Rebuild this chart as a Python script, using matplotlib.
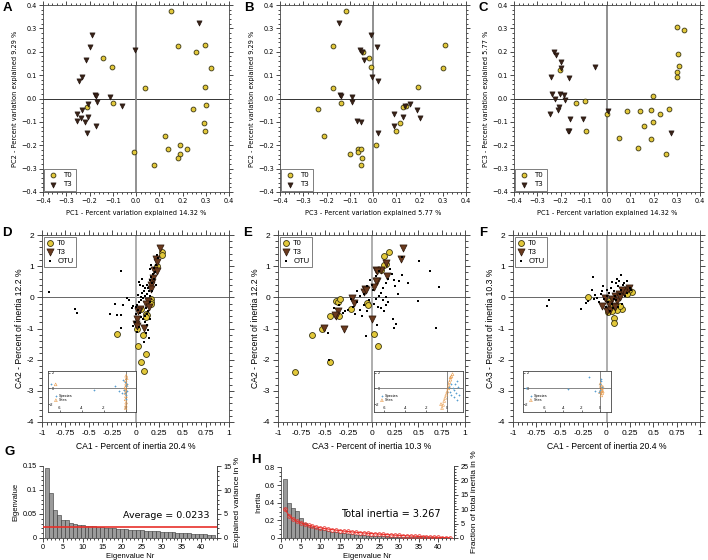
import matplotlib
matplotlib.use('Agg')
import matplotlib.pyplot as plt
from matplotlib.ticker import MultipleLocator, FuncFormatter
import numpy as np

# ---------- PCoA (A-C): (x, y) per panel ----------
a_t0 = [(0.152, 0.374), (0.181, 0.223), (0.257, 0.200), (0.295, 0.230), (0.321, 0.132), (0.298, 0.050),
        (0.301, -0.027), (0.244, -0.047), (0.291, -0.105), (0.295, -0.138), (0.125, -0.160), (0.136, -0.218),
        (0.189, -0.197), (0.189, -0.237), (0.181, -0.254), (0.221, -0.214), (0.077, -0.284), (0.040, 0.047),
        (-0.009, -0.230), (-0.142, 0.173), (-0.102, 0.135), (-0.099, -0.021), (-0.211, -0.037)]
a_t3 = [(0.270, 0.322), (-0.004, 0.206), (-0.191, 0.272), (-0.196, 0.220), (-0.215, 0.166), (-0.234, 0.091),
        (-0.247, 0.077), (-0.178, 0.017), (-0.171, 0.010), (-0.113, 0.007), (-0.166, -0.016), (-0.060, -0.031),
        (-0.205, -0.023), (-0.232, -0.050), (-0.254, -0.067), (-0.237, -0.084), (-0.206, -0.078), (-0.219, -0.099),
        (-0.255, -0.095), (-0.173, -0.118), (-0.212, -0.146)]
b_t0 = [(-0.116, 0.374), (-0.173, 0.224), (-0.043, 0.200), (-0.017, 0.173), (-0.007, 0.135), (0.309, 0.230),
        (0.299, 0.132), (-0.170, 0.047), (0.193, 0.050), (-0.139, -0.021), (-0.237, -0.047), (-0.211, -0.160),
        (0.127, -0.037), (0.141, -0.030), (0.117, -0.105), (0.097, -0.138), (0.013, -0.197), (-0.101, -0.237),
        (-0.066, -0.214), (-0.066, -0.230), (-0.051, -0.218), (-0.049, -0.254), (-0.050, -0.284)]
b_t3 = [(-0.147, 0.322), (-0.009, 0.272), (0.017, 0.220), (-0.054, 0.206), (-0.049, 0.201), (-0.037, 0.166),
        (-0.003, 0.091), (0.023, 0.077), (-0.140, 0.017), (-0.139, 0.010), (-0.089, 0.007), (-0.091, -0.016),
        (0.160, -0.023), (0.137, -0.031), (0.189, -0.050), (0.203, -0.084), (0.131, -0.078), (0.091, -0.067),
        (0.090, -0.118), (-0.069, -0.097), (-0.053, -0.099), (0.021, -0.146)]
c_t0 = [(0.303, 0.305), (0.331, 0.295), (0.306, 0.190), (0.309, 0.138), (0.299, 0.115), (0.303, 0.094),
        (0.197, 0.010), (0.266, -0.044), (0.229, -0.067), (0.190, -0.051), (0.144, -0.054), (0.087, -0.052),
        (0.197, -0.102), (0.159, -0.116), (0.189, -0.173), (0.050, -0.169), (0.134, -0.211), (0.253, -0.238),
        (-0.001, -0.067), (-0.204, 0.123), (-0.134, -0.021), (-0.094, -0.010), (-0.090, -0.140)]
c_t3 = [(-0.227, 0.201), (-0.221, 0.187), (-0.196, 0.157), (-0.197, 0.130), (-0.051, 0.133), (-0.243, 0.091),
        (-0.163, 0.089), (-0.237, 0.021), (-0.204, 0.021), (-0.186, 0.016), (-0.224, -0.003), (-0.180, -0.007),
        (-0.207, -0.035), (-0.210, -0.051), (-0.246, -0.068), (-0.159, -0.088), (-0.104, -0.088), (-0.163, -0.139),
        (-0.169, -0.140), (0.004, -0.054), (0.277, -0.146)]

# ---------- CA (D-F) ----------
d_t0 = [(0.286, 1.45), (0.279, 1.37), (0.225, 1.02), (0.161, -0.05), (0.171, -0.16), (0.161, -0.22),
        (0.064, -0.38), (0.111, -0.52), (0.121, -0.56), (0.107, -0.62), (0.021, -1.02), (0.082, -1.20),
        (-0.193, -1.18), (0.029, -1.56), (0.111, -1.81), (0.054, -2.06), (0.086, -2.37)]
d_t3 = [(0.261, 1.59), (0.214, 1.22), (0.232, 1.13), (0.196, 0.89), (0.225, 0.86), (0.179, 0.48),
        (0.171, 0.38), (0.161, 0.27), (0.136, -0.11), (0.107, -0.22), (0.046, -0.38), (0.029, -0.45),
        (0.011, -0.70), (0.0, -0.86), (0.018, -0.91), (0.089, -0.97), (0.146, -0.32), (0.189, 0.62)]
d_otu = [(-0.92, 0.18), (-0.65, -0.38), (-0.63, -0.49), (-0.15, 0.86), (-0.275, -0.54), (-0.20, -0.57),
         (-0.16, -0.57), (-0.22, -0.22), (-0.13, -0.25), (-0.09, -0.02), (-0.07, -0.09), (-0.03, -0.28),
         (-0.04, -0.33), (-0.16, -0.99), (-0.03, -0.92), (0.05, 0.38), (0.08, 0.35), (0.10, 0.30), (0.12, 0.40),
         (0.15, 0.55), (0.17, 0.65), (0.19, 0.75), (0.20, 0.95), (0.22, 1.05), (0.24, 1.25), (0.23, 1.35),
         (0.18, 0.45), (0.14, 0.20), (0.12, 0.10), (0.10, 0.05), (0.08, -0.02), (0.06, -0.08), (0.04, -0.15),
         (0.02, -0.25), (0.0, -0.30), (0.03, -0.40), (0.05, -0.50), (0.06, -0.62), (0.08, -0.70), (0.10, -0.78),
         (0.12, -0.88), (0.13, -1.05), (0.11, -1.15), (0.14, -1.30), (0.09, -1.42), (0.16, -0.15), (0.15, 0.05),
         (0.13, 0.30), (0.09, 0.20), (0.07, 0.15), (0.11, -0.35), (0.13, -0.45), (0.01, -0.55), (-0.01, -0.80),
         (0.04, -0.95), (0.02, -1.10), (0.06, 0.0), (0.03, 0.08), (0.18, 0.20), (0.20, 0.60), (0.21, 0.80),
         (0.16, 0.90), (0.17, 1.05), (0.22, 0.40), (0.04, 0.50), (0.07, 0.60), (0.10, -0.60), (0.15, -0.70),
         (0.12, -0.55)]
e_t0 = [(0.185, 1.44), (0.136, 1.34), (0.157, 1.08), (0.136, 1.04), (0.101, 0.89), (-0.378, -0.11),
        (-0.360, -0.15), (-0.332, -0.06), (-0.045, -0.19), (-0.035, -0.25), (-0.224, -0.39), (-0.343, -0.61),
        (-0.448, -0.61), (-0.528, -1.03), (-0.633, -1.22), (0.024, -1.18), (0.070, -1.56), (-0.441, -2.08),
        (-0.815, -2.38)]
e_t3 = [(0.339, 1.57), (0.318, 1.22), (0.154, 1.10), (0.049, 0.88), (0.101, 0.88), (0.056, 0.84),
        (0.171, 0.69), (0.056, 0.54), (0.049, 0.52), (0.031, 0.32), (-0.073, 0.26), (-0.084, 0.18),
        (-0.063, 0.22), (-0.210, -0.02), (-0.189, -0.19), (-0.360, -0.45), (-0.385, -0.59), (-0.395, -0.56),
        (-0.510, -0.97), (-0.294, -1.00), (0.007, -0.70)]
e_otu = [(0.51, 1.15), (0.63, 0.86), (0.72, 0.33), (0.50, -0.12), (0.69, -0.97), (0.39, 0.46), (0.33, 0.72),
         (0.29, 0.54), (0.24, 0.57), (0.23, -0.68), (0.26, -0.84), (0.24, -0.97), (0.06, -0.88), (-0.06, -1.24),
         (-0.46, -1.16), (-0.45, -2.00), (0.33, 1.31), (0.20, 0.90), (0.22, 0.75), (0.18, 0.60), (0.15, 0.45),
         (0.12, 0.30), (0.10, 0.15), (0.08, 0.05), (0.05, -0.05), (0.12, -0.10), (0.15, -0.25), (0.18, -0.15),
         (0.10, -0.35), (0.03, -0.20), (0.00, 0.40), (-0.05, 0.35), (-0.02, 0.55), (-0.08, 0.10), (-0.12, 0.05),
         (-0.15, -0.15), (-0.20, -0.30), (-0.25, -0.40), (-0.28, -0.45), (-0.30, -0.50), (-0.18, -0.55),
         (-0.10, -0.60), (-0.05, -0.45), (-0.35, -0.25), (-0.40, -0.35), (-0.22, -0.05), (-0.15, 0.20),
         (0.05, 0.70), (0.08, 0.85), (0.02, 0.25), (0.07, -0.30), (0.13, -0.45), (-0.08, -0.25), (-0.03, -0.10),
         (0.25, 0.35), (0.28, 0.10), (-0.12, -0.40), (0.16, 0.02)]
f_t0 = [(-0.194, 0.02), (0.272, 0.16), (0.244, 0.22), (0.163, -0.38), (0.085, -0.65), (0.085, -0.83),
        (0.113, -0.41), (0.053, -0.27), (0.014, -0.48), (0.060, -0.43), (0.194, 0.16), (0.219, 0.11),
        (0.025, -0.11), (0.148, -0.27)]
f_t3 = [(0.244, 0.29), (0.219, 0.22), (0.184, 0.16), (0.131, 0.11), (0.095, 0.05), (0.060, -0.05),
        (0.025, -0.22), (0.0, -0.45), (0.042, -0.41), (0.113, -0.11), (0.148, 0.0), (0.078, -0.27),
        (-0.011, -0.02), (-0.046, -0.27), (0.095, -0.32), (0.166, 0.24)]
f_otu = [(-0.62, -0.09), (-0.64, -0.29), (-0.27, -0.38), (-0.22, -0.18), (-0.20, -0.11), (-0.14, 0.65),
         (-0.15, 0.25), (-0.12, 0.09), (-0.06, 0.12), (0.16, 0.72), (0.13, 0.52), (0.22, 0.54), (0.10, 0.45),
         (0.05, 0.30), (0.08, 0.20), (0.12, 0.35), (0.18, 0.38), (0.25, 0.30), (0.00, 0.05), (-0.03, -0.05),
         (-0.08, -0.15), (-0.10, -0.02), (0.02, -0.15), (0.06, -0.20), (0.10, -0.10), (0.14, 0.10), (0.20, 0.05),
         (0.03, 0.15), (-0.05, 0.20), (0.07, -0.35), (0.12, -0.30), (0.17, -0.20), (0.22, 0.15), (0.09, 0.05),
         (0.04, -0.45), (-0.01, -0.30), (0.15, 0.25), (0.26, 0.25), (-0.13, -0.05), (0.00, 0.25), (0.11, 0.60),
         (0.19, 0.45), (-0.04, 0.35), (0.06, 0.50), (0.08, -0.05)]

# insets (species / sites biplots)
d_sp = [(-6.8, 0.5), (-2.85, -0.15), (-1.0, 0.25), (-0.65, -0.37), (-0.35, -0.55), (-0.2, 1.0), (-0.1, -0.6),
        (0.0, 0.3), (0.1, -0.3), (-0.05, 0.8), (0.05, -0.9), (-0.15, -0.2), (0.1, 0.6), (0.05, -1.3)]
d_si = [(-6.4, 0.5), (0.05, 1.6), (0.1, 1.3), (0.0, 1.0), (0.05, 0.6), (0.0, 0.2), (0.02, -0.2), (-0.02, -0.6),
        (0.03, -1.0), (0.0, -1.4), (0.05, -1.8), (0.02, -2.2), (0.0, -2.5), (-0.05, -0.1), (0.1, 0.4)]
e_sp = [(0.9, 0.9), (0.7, 0.5), (1.0, 0.2), (0.6, -0.2), (0.8, -0.6), (0.5, 0.1), (0.3, -0.4), (0.4, 0.6),
        (1.1, -0.9), (0.2, 0.2), (0.6, -1.1), (0.9, -1.5), (0.4, -0.8)]
e_si = [(0.5, 1.8), (0.4, 1.5), (0.3, 1.1), (0.2, 0.8), (0.15, 0.4), (0.1, 0.0), (0.0, -0.4), (-0.1, -0.8),
        (-0.2, -1.2), (-0.3, -1.6), (-0.4, -2.1), (-0.5, -2.5), (0.3, 1.4), (-0.6, -2.0)]
f_sp = [(-8.1, 0.1), (-3.5, -0.1), (-1.2, 1.4), (-0.5, -0.3), (0.0, 0.5), (0.1, 0.9), (0.2, 0.2), (-0.1, -0.4),
        (0.15, 1.2), (0.05, -0.2)]
f_si = [(0.1, 0.3), (0.2, 0.0), (0.1, -0.3), (0.25, -0.6), (0.15, -0.9), (0.05, 0.6), (0.3, 0.2), (0.2, -0.2),
        (0.0, -0.5), (0.3, -0.4)]

# ---------- eigenvalues (G, H) ----------
pcoa_eig = [0.145, 0.093, 0.058, 0.047, 0.038, 0.037, 0.031, 0.029, 0.028, 0.027, 0.026, 0.025, 0.024, 0.023,
            0.022, 0.021, 0.020, 0.020, 0.019, 0.018, 0.018, 0.017, 0.017, 0.016, 0.016, 0.015, 0.015, 0.014,
            0.014, 0.013, 0.013, 0.012, 0.012, 0.011, 0.011, 0.010, 0.010, 0.009, 0.009, 0.008, 0.008, 0.007, 0.006]
pcoa_avg = 0.0233
ca_eig = [0.67, 0.40, 0.34, 0.31, 0.23, 0.17, 0.15, 0.13, 0.115, 0.10, 0.09, 0.08, 0.072, 0.065, 0.058, 0.052,
          0.047, 0.042, 0.038, 0.034, 0.031, 0.028, 0.026, 0.024, 0.022, 0.020, 0.019, 0.017, 0.016, 0.015,
          0.014, 0.013, 0.012, 0.011, 0.010, 0.009, 0.008, 0.007, 0.006, 0.005, 0.004, 0.003, 0.002]
ca_stick = [0.331, 0.255, 0.217, 0.191, 0.172, 0.157, 0.144, 0.134, 0.124, 0.116, 0.108, 0.101, 0.095, 0.089,
            0.084, 0.078, 0.074, 0.069, 0.065, 0.061, 0.057, 0.054, 0.050, 0.047, 0.044, 0.041, 0.038, 0.035,
            0.032, 0.030, 0.027, 0.025, 0.022, 0.020, 0.018, 0.015, 0.013, 0.011, 0.009, 0.007, 0.005, 0.004, 0.002]
ca_total = 3.267
pcoa_total = 1.0

YEL = '#e2c83a'
BRN = '#3a2318'
BRN2 = '#6a3a1e'
RFONT = 'Liberation Sans'

fig = plt.figure(figsize=(7.08, 5.6), dpi=100)
W, H = 708.0, 560.0


def rect(x0, y0, x1, y1):
    return [x0 / W, 1 - y1 / H, (x1 - x0) / W, (y1 - y0) / H]


def xy(pts):
    return np.array(pts).T


def pc_panel(r, t0, t3, xlabel, ylabel):
    ax = fig.add_axes(r)
    ax.axhline(0, color='#333333', lw=0.7, zorder=1)
    ax.axvline(0, color='#888888', lw=1.3, zorder=1)
    x, y = xy(t0)
    ax.scatter(x, y, s=12, c=YEL, edgecolors='#3a3510', linewidths=0.6, label='T0', zorder=3)
    x, y = xy(t3)
    ax.scatter(x, y, s=14, c=BRN, edgecolors='#1a0d08', linewidths=0.4, marker='v', label='T3', zorder=3)
    ax.set_xlim(-0.4, 0.4)
    ax.set_ylim(-0.4, 0.4)
    for axis in (ax.xaxis, ax.yaxis):
        axis.set_major_locator(MultipleLocator(0.1))
        axis.set_minor_locator(MultipleLocator(0.02))
    ax.tick_params(which='both', direction='out', top=True, right=True, labelsize=4.7, width=0.5, pad=1.5)
    ax.tick_params(which='major', length=3)
    ax.tick_params(which='minor', length=1.5)
    for s in ax.spines.values():
        s.set_linewidth(0.6)
        s.set_color('#444444')
    ax.set_xlabel(xlabel, fontsize=4.8, labelpad=4)
    ax.set_ylabel(ylabel, fontsize=4.8, labelpad=2)
    leg = ax.legend(loc='lower left', fontsize=5, frameon=True, fancybox=False, borderaxespad=0.15,
                    handletextpad=0.8, borderpad=0.5, labelspacing=0.5, handlelength=1.5)
    leg.get_frame().set_edgecolor('#444444')
    leg.get_frame().set_linewidth(0.6)
    return ax


def fmt_r(v, pos):
    return '%g' % v


def ca_panel(r, t0, t3, otu, xlabel, ylabel, ir, sp, si, ixlim):
    ax = fig.add_axes(r)
    ax.axhline(0, color='#666666', lw=0.7, zorder=1)
    ax.axvline(0, color='#999999', lw=1.1, zorder=1)
    x, y = xy(t0)
    ax.scatter(x, y, s=18, c=YEL, edgecolors='#3a3510', linewidths=0.6, label='T0', zorder=3)
    x, y = xy(t3)
    ax.scatter(x, y, s=26, c=BRN2, edgecolors='#2a1508', linewidths=0.5, marker='v', label='T3', zorder=3)
    x, y = xy(otu)
    ax.scatter(x, y, s=2.5, c='black', marker='s', linewidths=0, label='OTU', zorder=4)
    ax.set_xlim(-1, 1)
    ax.set_ylim(-4, 2)
    ax.xaxis.set_major_locator(MultipleLocator(0.25))
    ax.xaxis.set_minor_locator(MultipleLocator(0.05))
    ax.yaxis.set_major_locator(MultipleLocator(1))
    ax.yaxis.set_minor_locator(MultipleLocator(0.2))
    ax.xaxis.set_major_formatter(FuncFormatter(fmt_r))
    ax.yaxis.set_major_formatter(FuncFormatter(fmt_r))
    ax.tick_params(which='both', direction='out', top=True, right=True, labelsize=6, width=0.5, pad=2,
                   labelfontfamily=RFONT, labeltop=False, labelright=False)
    ax.tick_params(which='major', length=3.5)
    ax.tick_params(which='minor', length=2)
    for s in ax.spines.values():
        s.set_linewidth(0.6)
        s.set_color('#444444')
    ax.set_xlabel(xlabel, fontsize=6.2, family=RFONT, labelpad=4)
    ax.set_ylabel(ylabel, fontsize=6.2, family=RFONT, labelpad=2)
    leg = ax.legend(loc='upper left', prop={'family': RFONT, 'size': 5.5}, frameon=True, fancybox=False,
                    borderaxespad=0.3, handletextpad=0.4, borderpad=0.3, labelspacing=0.2, handlelength=1.0)
    leg.get_frame().set_edgecolor('#444444')
    leg.get_frame().set_linewidth(0.6)

    ins = fig.add_axes(ir)
    ins.axhline(0, color='#555555', lw=0.5)
    ins.axvline(0, color='#555555', lw=0.5)
    x, y = xy(sp)
    ins.scatter(x, y, s=4, c='#5a9fd0', marker='+', linewidths=0.5, label='Species', zorder=3)
    x, y = xy(si)
    ins.scatter(x, y, s=4, facecolors='none', edgecolors='#e89a4a', marker='^', linewidths=0.4,
                label='Sites', zorder=2)
    ins.set_xlim(*ixlim)
    ins.set_ylim(-3, 2.2)
    ins.set_xticks([-6, -4, -2, 0])
    ins.set_yticks([-2, 0, 2])
    ins.xaxis.set_major_formatter(FuncFormatter(fmt_r))
    ins.yaxis.set_major_formatter(FuncFormatter(fmt_r))
    ins.tick_params(direction='in', length=1.5, width=0.4, labelsize=2.8, labelfontfamily=RFONT)
    ins.tick_params(axis='x', pad=-4.5)
    ins.tick_params(axis='y', pad=-4)
    for s in ins.spines.values():
        s.set_linewidth(0.6)
        s.set_color('#444444')
    ins.legend(loc='lower left', bbox_to_anchor=(0.05, 0.2), prop={'family': RFONT, 'size': 2.8},
               frameon=False, borderaxespad=0.0, handletextpad=0.3, labelspacing=0.1, handlelength=1.0)
    return ax


def eig_panel(r, vals, total, ytop, ystep, yminor, rtop, rstep, ylabel, rlabel):
    ax = fig.add_axes(r)
    n = np.arange(1, len(vals) + 1)
    ax.bar(n, vals, width=1.0, color='#9b9b9b', edgecolor='#333333', linewidth=0.4, zorder=2)
    ax.set_xlim(0, 44)
    ax.set_ylim(0, rtop / 100 * total)
    ax.xaxis.set_major_locator(MultipleLocator(5))
    ax.xaxis.set_minor_locator(MultipleLocator(1))
    ax.yaxis.set_major_locator(MultipleLocator(ystep))
    ax.yaxis.set_minor_locator(MultipleLocator(yminor))
    ax.xaxis.set_major_formatter(FuncFormatter(fmt_r))
    ax.yaxis.set_major_formatter(FuncFormatter(fmt_r))
    ax.spines['top'].set_visible(False)
    ax.spines['left'].set_bounds(0, ytop)
    for s in ax.spines.values():
        s.set_linewidth(0.6)
        s.set_color('#444444')
    ax.tick_params(which='both', direction='out', labelsize=5.2, width=0.5, pad=1.5, labelfontfamily=RFONT)
    ax.tick_params(which='major', length=3)
    ax.tick_params(which='minor', length=1.5)
    ax.set_xlabel('Eigenvalue Nr', fontsize=5.5, family=RFONT, labelpad=1)
    ax.set_ylabel(ylabel, fontsize=5.5, family=RFONT, labelpad=2)

    ax2 = ax.twinx()
    ax2.set_ylim(0, rtop)
    ax2.yaxis.set_major_locator(MultipleLocator(rstep))
    ax2.yaxis.set_minor_locator(MultipleLocator(1))
    ax2.yaxis.set_major_formatter(FuncFormatter(fmt_r))
    for side in ('top', 'left', 'bottom'):
        ax2.spines[side].set_visible(False)
    ax2.spines['right'].set_linewidth(0.6)
    ax2.spines['right'].set_color('#444444')
    ax2.tick_params(which='both', direction='out', labelsize=5.2, width=0.5, pad=1.5, labelfontfamily=RFONT)
    ax2.tick_params(which='major', length=3)
    ax2.tick_params(which='minor', length=1.5)
    ax2.set_ylabel(rlabel, fontsize=6, family=RFONT, labelpad=2)
    return ax, n


# ---------- A, B, C ----------
pc_panel(rect(43, 5, 229, 192), a_t0, a_t3,
         'PC1 - Percent variation explained 14.32 %', 'PC2 - Percent variation explained 9.29 %')
pc_panel(rect(280, 5, 466, 192), b_t0, b_t3,
         'PC3 - Percent variation explained 5.77 %', 'PC2 - Percent variation explained 9.29 %')
pc_panel(rect(514, 5, 700, 192), c_t0, c_t3,
         'PC1 - Percent variation explained 14.32 %', 'PC3 - Percent variation explained 5.77 %')

# ---------- D, E, F ----------
ca_panel(rect(42, 235, 229, 422), d_t0, d_t3, d_otu,
         'CA1 - Percent of inertia 20.4 %', 'CA2 - Percent of inertia 12.2 %',
         rect(48, 371, 136, 412), d_sp, d_si, (-7.1, 0.95))
ca_panel(rect(278, 235, 465, 422), e_t0, e_t3, e_otu,
         'CA3 - Percent of inertia 10.3 %', 'CA2 - Percent of inertia 12.2 %',
         rect(374, 371, 463, 412), e_sp, e_si, (-7.0, 1.5))
ca_panel(rect(513, 235, 700, 422), f_t0, f_t3, f_otu,
         'CA1 - Percent of inertia 20.4 %', 'CA3 - Percent of inertia 10.3 %',
         rect(523, 371, 611, 412), f_sp, f_si, (-8.4, 1.2))

# ---------- G ----------
axg, ng = eig_panel(rect(43, 466, 217, 538), pcoa_eig, pcoa_total, 0.15, 0.05, 0.01, 15, 5,
                    'Eigenvalue', 'Explained variance in %')
axg.plot([0, 44], [pcoa_avg, pcoa_avg], color='#e8302a', lw=1.2, zorder=3)
axg.text(42.2, 0.037, 'Average = %s' % pcoa_avg, ha='right', va='bottom', fontsize=6.8)

# ---------- H ----------
axh, nh = eig_panel(rect(281, 466, 454, 538), ca_eig, ca_total, 0.8, 0.2, 0.05, 25, 5,
                    'Inertia', 'Fraction of total inertia in %')
axh.plot(nh, ca_stick, color='#e8302a', lw=0.8, marker='o', ms=2.6, mfc='none', mec='#e8302a',
         mew=0.6, zorder=3)
axh.text(40.5, 0.215, 'Total inertia = %s' % ca_total, ha='right', va='bottom', fontsize=7)

# panel letters
for lab, px, py in [('A', 7, 8), ('B', 249, 8), ('C', 483, 8), ('D', 7, 233), ('E', 248, 233),
                    ('F', 483, 233), ('G', 10, 452), ('H', 256, 460)]:
    fig.text(px / W, 1 - py / H, lab, fontsize=9.5, fontweight='bold', family=RFONT, ha='center', va='center')

fig.savefig('out.png', dpi=100)
